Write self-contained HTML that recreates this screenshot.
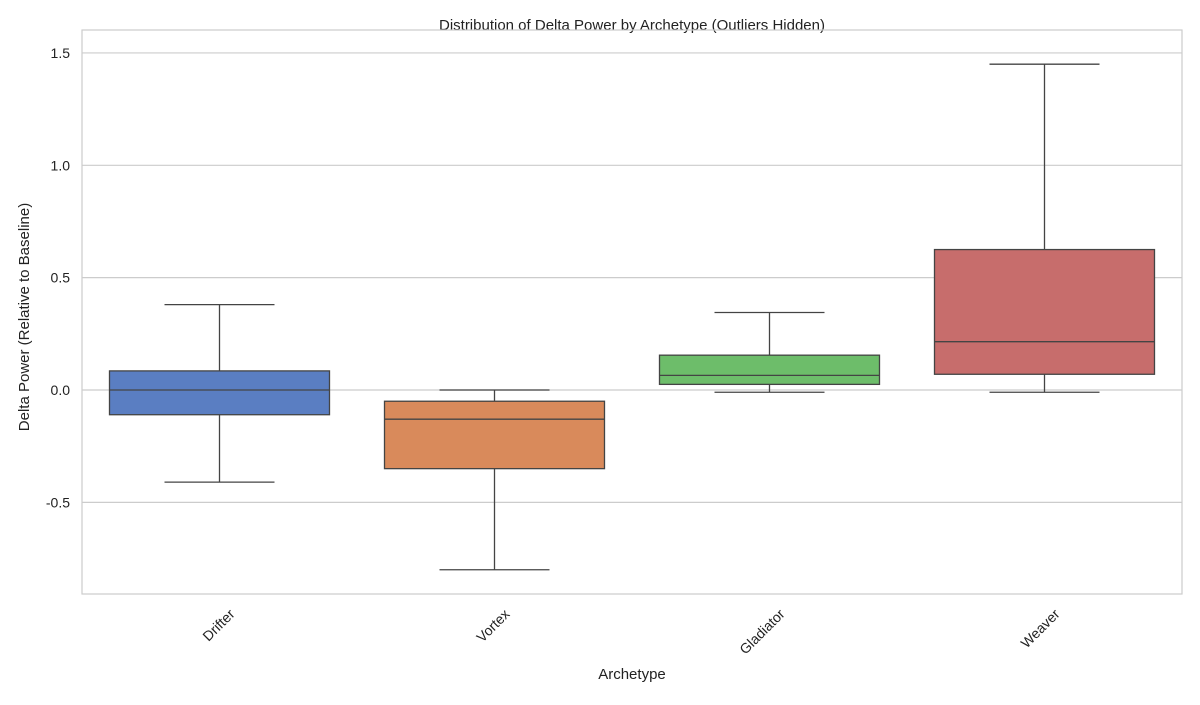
<!DOCTYPE html>
<html><head><meta charset="utf-8"><style>
body{margin:0;background:#fff;font-family:"Liberation Sans",Arial,sans-serif;}
</style></head><body>
<svg id="chart" width="1200" height="700" xmlns="http://www.w3.org/2000/svg">
<text x="632" y="30" text-anchor="middle" font-size="15" fill="#222">Distribution of Delta Power by Archetype (Outliers Hidden)</text>
<g id="grid"></g>
<g id="boxes"></g>
<rect x="82" y="30" width="1100" height="564" fill="none" stroke="#ccc" stroke-width="1.2"/>
<g id="labels"></g>
<text x="632" y="679" text-anchor="middle" font-size="15" fill="#222">Archetype</text>
<text transform="translate(29,317) rotate(-90)" text-anchor="middle" font-size="15" fill="#222">Delta Power (Relative to Baseline)</text>
</svg>
<script>
const categories=["Drifter","Vortex","Gladiator","Weaver"];
const whislo=[-0.41,-0.80,-0.01,-0.01];
const q1=[-0.11,-0.35,0.025,0.07];
const median=[0.0,-0.13,0.065,0.215];
const q3=[0.085,-0.05,0.155,0.625];
const whishi=[0.38,0.0,0.345,1.45];
const yTicks=[-0.5,0.0,0.5,1.0,1.5];
const colors=["#5a7ec2","#d98a5b","#6dbd6a","#c76d6c"];
const NS="http://www.w3.org/2000/svg";
const y=v=>390-v*224.7;
const x=i=>82+275*(i+0.5);
function mk(tag,attrs,parent){const e=document.createElementNS(NS,tag);for(const k in attrs)e.setAttribute(k,attrs[k]);parent.appendChild(e);return e;}
const grid=document.getElementById('grid'),boxes=document.getElementById('boxes'),labels=document.getElementById('labels');
yTicks.forEach(t=>{
  const l=mk('line',{x1:82,x2:1182,y1:y(t),y2:y(t),stroke:'#ccc','stroke-width':1.2},grid);
  
  
  const tx=mk('text',{x:70,y:y(t)+5,'text-anchor':'end','font-size':14,fill:'#222'},labels);
  tx.textContent=t.toFixed(1);
  
  
});
categories.forEach((c,i)=>{
  const cx=x(i),g=mk('g',{},boxes);
  
  
  const s={stroke:'#444','stroke-width':1.3};
  mk('line',Object.assign({x1:cx,x2:cx,y1:y(whishi[i]),y2:y(q3[i])},s),g);
  mk('line',Object.assign({x1:cx,x2:cx,y1:y(q1[i]),y2:y(whislo[i])},s),g);
  mk('line',Object.assign({x1:cx-55,x2:cx+55,y1:y(whishi[i]),y2:y(whishi[i])},s),g);
  mk('line',Object.assign({x1:cx-55,x2:cx+55,y1:y(whislo[i]),y2:y(whislo[i])},s),g);
  mk('rect',Object.assign({x:cx-110,width:220,y:y(q3[i]),height:y(q1[i])-y(q3[i]),fill:colors[i]},s),g);
  mk('line',Object.assign({x1:cx-110,x2:cx+110,y1:y(median[i]),y2:y(median[i])},s),g);
  const tx=mk('text',{x:0,y:0,'text-anchor':'end','font-size':14,fill:'#222',transform:`translate(${cx+16},${615}) rotate(-45)`},labels);
  tx.textContent=c;
  
  
});
</script>
</body></html>
